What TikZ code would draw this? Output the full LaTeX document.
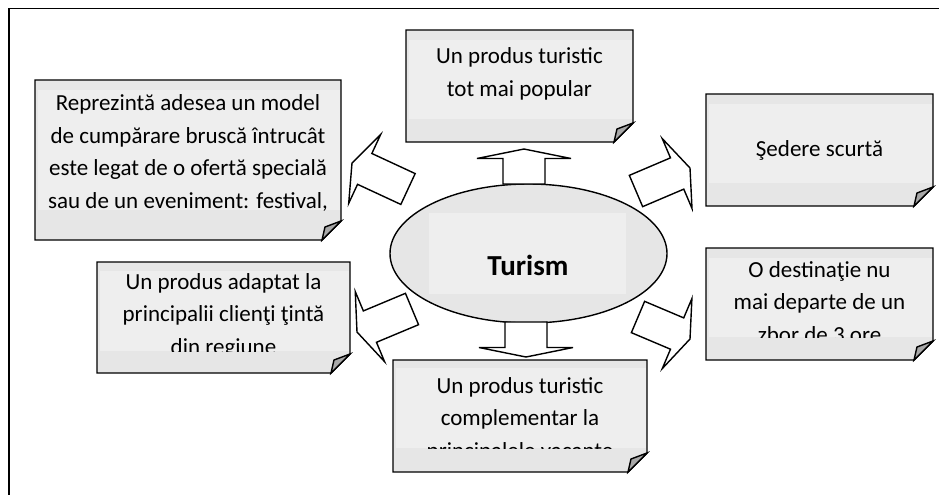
\documentclass[tikz,border=0pt]{standalone}
\usepackage{fontspec}
\setmainfont{Carlito}
\usetikzlibrary{shapes.geometric, calc}

\definecolor{notegrey}{HTML}{E6E6E6}
\definecolor{bandgrey}{HTML}{EEEEEE}
\definecolor{foldgrey}{HTML}{A8A8A8}

\tikzset{
  frame/.style={line width=0.8pt},
  noteline/.style={draw=black, line width=0.7pt, line join=miter},
  band/.style={fill=bandgrey},
  notetext/.style={font=\fontsize{11.5}{16.2}\selectfont, align=center, inner sep=0pt, anchor=base},
  blockarr/.style={draw=black, line width=0.7pt, fill=white, line join=miter},
  hub/.style={ellipse, draw=black, line width=0.7pt, fill=notegrey,
    minimum width=138.5pt, minimum height=69.5pt, inner sep=0pt}
}

% note with folded corner: name, x1, y1, x2, y2, band top, band bottom, last baseline, text
\newcommand{\notebox}[9]{
  \fill[notegrey] (#2,#3) -- (#4,#3) -- (#4,#5-19) -- (#4-19,#5) -- (#2,#5) -- cycle;
  \fill[band] (#2+3,#6) rectangle (#4-0.7,#7);
  \draw[noteline] (#2,#3) -- (#4,#3) -- (#4,#5-19) -- (#4-19,#5) -- (#2,#5) -- cycle;
  \filldraw[noteline, fill=foldgrey] (#4,#5-19) -- (#4-16,#5-13) -- (#4-19,#5) -- cycle;
  \begin{scope}
    \clip (#2,#6) rectangle (#4,#7);
    \node[notetext] (#1) at ({(#2+#4)/2},#8) {#9};
  \end{scope}
}

% block arrow: start, tip, half shaft, half head, head length
\newcommand{\fatarrow}[5]{
  \coordinate (h) at ($(#2)!#5!(#1)$);
  \draw[blockarr] ($(#1)!#3!90:(#2)$) -- ($(h)!#3!-90:(#1)$) -- ($(h)!#4!-90:(#1)$)
    -- (#2) -- ($(h)!#4!90:(#1)$) -- ($(h)!#3!90:(#1)$) -- ($(#1)!#3!-90:(#2)$) -- cycle;
}

\begin{document}
\begin{tikzpicture}[x=0.5pt,y=-0.5pt]
\useasboundingbox (0,0) rectangle (939,495);
\draw[frame] (939,8.5) -- (9,8.5) -- (9,495);

% centre
\node[hub] (turism) at (528.5,253.5) {};
\fill[band] (429,213) rectangle (626,294);
\node[font=\bfseries\fontsize{14.5}{17}\selectfont, inner sep=0pt, anchor=base] (turismtext) at (528,275) {Turism};

% notes
\notebox{repr}{35}{80}{341}{240}{90}{210}{208}{Reprezintă adesea un model\\de cumpărare bruscă întrucât\\este legat de o ofertă specială\\sau de un eveniment: festival,}
\notebox{popular}{406}{30}{633}{142}{40}{119}{96}{Un produs turistic\\tot mai popular}
\notebox{sedere}{706}{94}{933}{206}{104}{183}{156}{Şedere scurtă}
\notebox{dest}{706}{248}{933}{360}{258}{337}{342}{O destinaţie nu\\mai departe de un\\zbor de 3 ore}
\notebox{compl}{393}{360}{647}{472}{368}{448}{458}{Un produs turistic\\complementar la\\principalele vacante}
\notebox{adapt}{97}{262}{350}{373}{271}{351}{354}{Un produs adaptat la\\principalii clienţi ţintă\\din regiune}

% arrows
\coordinate (up0) at (524,184);   \coordinate (up1) at (524,149);
\coordinate (dn0) at (526,322);   \coordinate (dn1) at (526,357);
\coordinate (ul0) at (408,189);   \coordinate (ul1) at (352,163);
\coordinate (ur0) at (636,191);   \coordinate (ur1) at (690,168);
\coordinate (ll0) at (412,309);   \coordinate (ll1) at (357,332);
\coordinate (lr0) at (638,317);   \coordinate (lr1) at (690,339);
\foreach \s/\t in {up0/up1, dn0/dn1} {\fatarrow{\s}{\t}{10.5pt}{23.5pt}{4.75pt}}
\foreach \s/\t in {ul0/ul1, ur0/ur1, ll0/ll1, lr0/lr1} {\fatarrow{\s}{\t}{8.5pt}{19pt}{7pt}}
\end{tikzpicture}
\end{document}
